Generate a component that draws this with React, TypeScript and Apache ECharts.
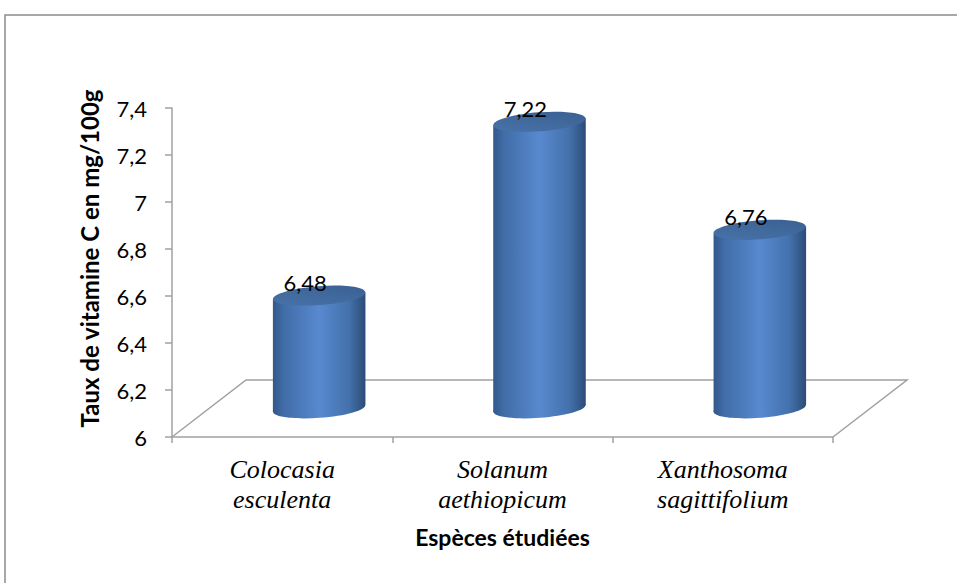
import React, { useEffect, useRef } from "react";
import * as echarts from "echarts";

// Species studied (category axis)
const categories = ["Colocasia\nesculenta", "Solanum\naethiopicum", "Xanthosoma\nsagittifolium"];
// Vitamin C content, mg/100g
const values = [6.48, 7.22, 6.76];
// Value axis range
const yMin = 6;
const yMax = 7.4;
const yStep = 0.2;

const axisTitleY = "Taux de vitamine C en mg/100g";
const axisTitleX = "Espèces étudiées";

// depth offset of the 3D floor (pixels)
const DX = 74;
const DY = -57;

const fmt = (v: number) => String(Math.round(v * 100) / 100).replace(".", ",");

export default function App() {
  const ref = useRef<HTMLDivElement>(null);

  useEffect(() => {
    if (!ref.current) return;
    const chart = echarts.init(ref.current, undefined, { renderer: "svg" });
    const sans = "Lato, 'Open Sans', sans-serif";
    const gray = "#a0a0a0";

    const bodyGradient = () =>
      new echarts.graphic.LinearGradient(0, 0, 1, 0, [
        { offset: 0, color: "#33588a" },
        { offset: 0.12, color: "#416da8" },
        { offset: 0.5, color: "#5889cf" },
        { offset: 0.82, color: "#4471ac" },
        { offset: 1, color: "#2c4c78" },
      ]);

    chart.setOption({
      animation: false,
      backgroundColor: "#fff",
      graphic: [
        {
          type: "rect",
          shape: { x: 5, y: 15, width: 1200, height: 800 },
          style: { fill: "none", stroke: "#8c8c8c", lineWidth: 1.5 },
          silent: true,
          z: -10,
        },
      ],
      grid: { left: 172, right: 124, top: 108, bottom: 146 },
      xAxis: {
        type: "category",
        data: categories,
        axisLine: { show: true, lineStyle: { color: gray, width: 1.5 } },
        axisTick: { show: true, length: 6, lineStyle: { color: gray, width: 1.5 } },
        axisLabel: {
          interval: 0,
          margin: 17,
          fontFamily: "'Liberation Serif', 'Times New Roman', serif",
          fontStyle: "italic",
          fontSize: 26,
          lineHeight: 30,
          color: "#000",
        },
        name: axisTitleX,
        nameLocation: "middle",
        nameGap: 88,
        nameTextStyle: { fontFamily: sans, fontWeight: "bold", fontSize: 23, color: "#000" },
        splitLine: { show: false },
      },
      yAxis: {
        type: "value",
        min: yMin,
        max: yMax,
        interval: yStep,
        axisLine: { show: true, lineStyle: { color: gray, width: 1.5 } },
        axisTick: { show: true, length: 7, lineStyle: { color: gray, width: 1.5 } },
        axisLabel: {
          margin: 25,
          fontFamily: sans,
          fontSize: 22,
          color: "#000",
          formatter: (v: number) => fmt(v),
        },
        splitLine: { show: false },
        name: axisTitleY,
        nameLocation: "middle",
        nameGap: 71,
        nameTextStyle: {
          fontFamily: sans,
          fontWeight: "bold",
          fontSize: 24,
          color: "#000",
          padding: [0, 0, 0, 28],
        },
      },
      series: [
        {
          // floor of the 3D plot area
          type: "custom",
          silent: true,
          z: 1,
          data: [[0, yMin]],
          renderItem: (params: any, api: any) => {
            const cs = params.coordSys;
            const x0 = cs.x;
            const y0 = cs.y + cs.height;
            const x1 = cs.x + cs.width;
            return {
              type: "polyline",
              shape: {
                points: [
                  [x0, y0],
                  [x0 + DX, y0 + DY],
                  [x1 + DX, y0 + DY],
                  [x1, y0],
                ],
              },
              style: { stroke: gray, lineWidth: 1.5, fill: "none" },
            };
          },
        },
        {
          // cylinders
          type: "custom",
          z: 3,
          data: values.map((v, i) => [i, v]),
          encode: { x: 0, y: 1 },
          renderItem: (params: any, api: any) => {
            const idx = api.value(0);
            const v = api.value(1);
            const top = api.coord([idx, v]);
            const base = api.coord([idx, yMin]);
            const band = api.size([1, 0])[0];
            const cx = top[0] + DX / 2;
            const topY = top[1] + DY / 2;
            const botY = base[1] + DY / 2;
            const rx = band * 0.21;
            const ry = 9.5;
            const tilt = 0.075;
            const t = rx * Math.tan(tilt);
            return {
              type: "group",
              children: [
                {
                  type: "ellipse",
                  shape: { cx, cy: botY, rx, ry },
                  rotation: tilt,
                  originX: cx,
                  originY: botY,
                  style: { fill: bodyGradient() },
                },
                {
                  type: "polygon",
                  shape: {
                    points: [
                      [cx - rx, topY + t],
                      [cx + rx, topY - t],
                      [cx + rx, botY - t],
                      [cx - rx, botY + t],
                    ],
                  },
                  style: { fill: bodyGradient() },
                },
                {
                  type: "ellipse",
                  shape: { cx, cy: topY, rx, ry },
                  rotation: tilt,
                  originX: cx,
                  originY: topY,
                  style: {
                    fill: new echarts.graphic.LinearGradient(0, 1, 1, 0, [
                      { offset: 0, color: "#4874ab" },
                      { offset: 1, color: "#3a5f90" },
                    ]),
                  },
                },
                {
                  type: "text",
                  style: {
                    text: fmt(v),
                    x: cx - 14,
                    y: topY - 13,
                    textAlign: "center",
                    textVerticalAlign: "middle",
                    font: "22px " + sans,
                    fill: "#000",
                  },
                },
              ],
            };
          },
        },
      ],
    });

    return () => chart.dispose();
  }, []);

  return (
    <div
      ref={ref}
      style={{ position: "fixed", left: 0, top: 0, width: 957, height: 583 }}
    />
  );
}
